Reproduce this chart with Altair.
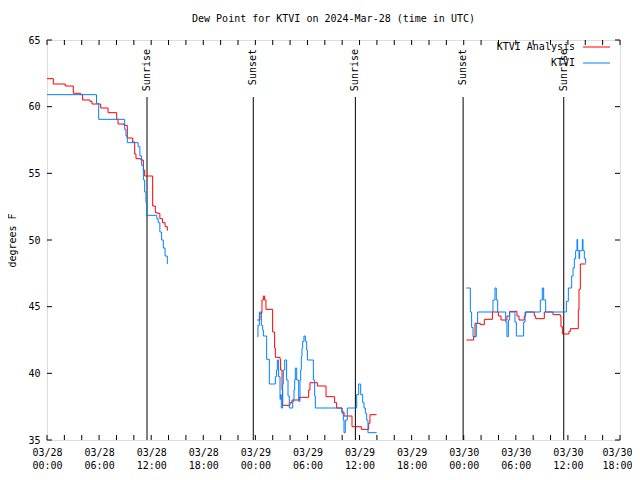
import json
import altair as alt
import pandas as pd

FONT = "DejaVu Sans Mono"
RED = "#ff0000"
BLUE = "#0080ff"

# ---- Data (hours since 2024-03-28 00:00 UTC, dew point in degrees F) ----
analysis_h1 = [0.00, 0.73, 2.10, 3.03, 3.88, 4.10, 4.95, 5.18, 6.18, 7.03, 8.03, 8.18, 8.87,
               9.25, 9.87, 10.10, 10.25, 10.80, 11.10, 11.25, 12.17, 12.48, 12.70, 13.00, 13.30,
               13.60, 13.86]
analysis_v1 = [62.1, 61.7, 61.55, 61.0, 60.9, 60.5, 60.4, 60.2, 59.9, 59.55, 59.05, 58.7, 58.6,
               57.65, 57.35, 56.45, 56.1, 56.0, 55.25, 54.8, 52.55, 52.05, 52.0, 51.6, 51.3,
               51.0, 50.7]
ktvi_h1 = [0.00, 5.70, 5.95, 8.95, 9.10, 9.25, 10.50, 10.70, 10.90, 11.10, 11.25, 11.40, 11.48,
           12.65, 12.80, 13.00, 13.20, 13.40, 13.60, 13.86]
ktvi_v1 = [60.9, 60.25, 59.05, 58.3, 57.8, 57.3, 57.0, 56.3, 55.6, 54.5, 53.6, 52.8, 51.85,
           51.6, 51.3, 50.6, 50.0, 49.4, 48.8, 48.2]

analysis_h2 = [24.23, 24.53, 24.76, 24.92, 25.07, 25.22, 25.99, 26.22, 26.30, 26.84, 26.91,
               27.07, 27.14, 27.99, 28.22, 29.06, 30.14, 30.29, 31.14, 32.14, 33.13, 33.36,
               33.98, 34.21, 35.13, 36.20, 37.05, 37.20, 37.97]
analysis_v2 = [44.0, 44.5, 45.5, 45.8, 45.5, 44.8, 43.1, 41.9, 41.2, 41.05, 40.25,
               38.75, 37.6, 37.8, 38.0, 38.2, 38.75, 39.3, 39.05, 38.25, 37.8, 37.4,
               37.1, 36.8, 36.0, 35.8, 36.25, 36.9, 36.9]
ktvi_h2 = [24.23, 24.30, 24.46, 24.69, 24.84, 24.92, 25.30, 25.61, 26.30, 26.45, 26.53, 26.68,
           26.84, 26.91, 26.99, 27.14, 27.22, 27.38, 27.60, 27.76, 27.91, 28.30, 28.45, 28.53,
           28.60, 28.76, 28.99, 29.14, 29.22, 29.29, 29.37, 29.45, 29.60, 29.76, 29.91, 29.99,
           30.68, 30.83, 30.91, 33.98, 34.13, 34.21, 34.36, 34.59, 35.67, 35.90, 36.13, 36.36,
           36.51, 36.67, 36.82, 36.97, 37.97]
ktvi_v2 = [42.75, 43.6, 44.6, 43.6, 43.25, 42.8, 41.05, 39.2, 39.75, 40.25, 41.0, 39.75,
           38.05, 38.4, 37.4, 39.2, 40.25, 41.0, 39.5, 38.3, 37.4, 37.9, 38.75, 39.5,
           40.4, 39.5, 37.9, 39.5, 40.25, 41.25, 41.9, 42.4, 42.8, 42.4, 41.75, 41.0,
           39.5, 38.3, 37.4, 37.0, 36.5, 35.55, 36.5, 37.4, 38.4, 39.2, 38.4, 37.8,
           37.4, 37.0, 36.5, 35.55, 35.55]

analysis_h3 = [48.30, 49.14, 49.30, 49.91, 50.37, 51.30, 51.99, 52.29, 52.98, 53.29, 54.13,
               54.37, 54.98, 55.13, 56.13, 56.29, 57.28, 58.28, 59.13, 59.20, 59.36, 60.12,
               60.28, 61.20, 61.28, 61.43, 62.04]
analysis_v3 = [42.5, 42.75, 43.75, 43.65, 44.05, 44.6, 44.3, 44.0, 44.3, 44.65, 44.3,
               44.0, 44.3, 44.6, 44.3, 44.1, 44.6, 44.4, 44.3, 43.5, 42.95, 43.15,
               43.35, 44.75, 46.3, 48.2, 48.2]
ktvi_h3 = [48.30, 48.76, 48.91, 49.07, 49.45, 49.60, 51.37, 51.60, 51.75, 51.91, 52.83, 52.98,
           53.14, 53.29, 53.90, 54.06, 54.90, 55.06, 56.82, 57.05, 57.21, 57.44, 59.82, 60.05,
           60.43, 60.59, 60.74, 60.89, 61.05, 61.12, 61.28, 61.35, 61.66, 61.74, 61.89, 62.04]
ktvi_v3 = [46.4, 44.6, 43.45, 42.75, 43.75, 44.6, 45.5, 46.4, 45.5, 44.6, 43.85, 42.75,
           44.0, 44.6, 43.85, 42.8, 43.85, 44.6, 45.5, 46.4, 45.5, 44.6, 45.4, 46.4,
           47.3, 47.9, 48.6, 49.2, 50.05, 49.2, 48.6, 49.2, 50.05, 49.2, 48.6, 48.25]

event_hours = [11.52, 23.76, 35.52, 47.93, 59.52]
event_labels = ["Sunrise", "Sunset", "Sunrise", "Sunset", "Sunrise"]

x_tick_values = list(range(0, 67, 6))
x_tick_labels = ["03/28 00:00", "03/28 06:00", "03/28 12:00", "03/28 18:00",
                 "03/29 00:00", "03/29 06:00", "03/29 12:00", "03/29 18:00",
                 "03/30 00:00", "03/30 06:00", "03/30 12:00", "03/30 18:00"]
x_minor_ticks = list(range(0, 67, 2))
y_tick_values = [35, 40, 45, 50, 55, 60, 65]

series_names = ["KTVI Analysis", "KTVI"]
series_colors = [RED, BLUE]

# ---- Build tables ----
rows = []
for name, segs in [("KTVI Analysis", [(analysis_h1, analysis_v1), (analysis_h2, analysis_v2), (analysis_h3, analysis_v3)]),
                   ("KTVI", [(ktvi_h1, ktvi_v1), (ktvi_h2, ktvi_v2), (ktvi_h3, ktvi_v3)])]:
    for i, (hs, vs) in enumerate(segs):
        for h, v in zip(hs, vs):
            rows.append({"hour": h, "value": v, "series": name, "seg": f"{name}-{i}"})
df = pd.DataFrame(rows)
events = pd.DataFrame({"hour": event_hours, "label": event_labels})
xticks = pd.DataFrame({"hour": x_minor_ticks})
yticks = pd.DataFrame({"value": y_tick_values})

W, H = 573, 400
xscale = alt.Scale(domain=[0, 66], nice=False, zero=False)
yscale = alt.Scale(domain=[35, 65], nice=False, zero=False)

label_expr = f"split({json.dumps(x_tick_labels)}[round(datum.value / 6)], ' ')"

lines = alt.Chart(df).mark_line(interpolate="step-after", strokeWidth=1, clip=True).encode(
    x=alt.X("hour:Q", scale=xscale,
            axis=alt.Axis(values=x_tick_values, labelExpr=label_expr, title=None, grid=False,
                          domain=False, ticks=False, labelPadding=7, labelFont=FONT,
                          labelFontSize=10, labelColor="black", labelLineHeight=13,
                          labelFlush=False, labelOverlap=False,
                          labelOffset={"condition": {"test": "datum.value >= 66", "value": -3},
                                       "value": 0})),
    y=alt.Y("value:Q", scale=yscale,
            axis=alt.Axis(values=y_tick_values, title="degrees F", grid=False, domain=False,
                          ticks=False, labelPadding=7, labelFont=FONT, labelFontSize=10,
                          labelColor="black", titleFont=FONT, titleFontSize=10,
                          titleFontWeight="normal", titleColor="black", titlePadding=10)),
    color=alt.Color("series:N", scale=alt.Scale(domain=series_names, range=series_colors), legend=None),
    detail="seg:N",
)

event_rules = alt.Chart(events).mark_rule(color="black", strokeWidth=1).encode(
    x=alt.X("hour:Q", scale=xscale), y=alt.value(57), y2=alt.value(H)
)
event_text = alt.Chart(events).mark_text(
    angle=270, align="right", baseline="middle", font=FONT, fontSize=10, color="black"
).encode(x=alt.X("hour:Q", scale=xscale), y=alt.value(9), text="label:N")

xt_bottom = alt.Chart(xticks).mark_rule(color="black").encode(
    x=alt.X("hour:Q", scale=xscale), y=alt.value(H - 5), y2=alt.value(H))
xt_top = alt.Chart(xticks).mark_rule(color="black").encode(
    x=alt.X("hour:Q", scale=xscale), y=alt.value(0), y2=alt.value(5))
yt_left = alt.Chart(yticks).mark_rule(color="black").encode(
    y=alt.Y("value:Q", scale=yscale), x=alt.value(0), x2=alt.value(5))
yt_right = alt.Chart(yticks).mark_rule(color="black").encode(
    y=alt.Y("value:Q", scale=yscale), x=alt.value(W - 5), x2=alt.value(W))

legend_layers = []
for i, (name, col) in enumerate(zip(series_names, series_colors)):
    ld = pd.DataFrame({"name": [name]})
    ypos = 7 + 16 * i
    legend_layers.append(alt.Chart(ld).mark_text(
        align="right", baseline="middle", font=FONT, fontSize=10, color="black"
    ).encode(text="name:N", x=alt.value(528), y=alt.value(ypos)))
    legend_layers.append(alt.Chart(ld).mark_rule(color=col, strokeWidth=1).encode(
        x=alt.value(536), x2=alt.value(563), y=alt.value(ypos)))

chart = alt.layer(
    xt_bottom, xt_top, yt_left, yt_right, event_rules, event_text, lines, *legend_layers
).properties(
    width=W, height=H,
    title=alt.TitleParams("Dew Point for KTVI on 2024-Mar-28 (time in UTC)", font=FONT,
                          fontSize=10, fontWeight="normal", color="black", anchor="middle",
                          offset=11),
    autosize=alt.AutoSizeParams(type="none"),
    padding={"left": 39, "top": 32, "right": 12, "bottom": 32},
).configure_view(stroke="black", strokeWidth=1).configure(background="white")

chart.save("out.html", embed_options={"renderer": "svg", "actions": False})
